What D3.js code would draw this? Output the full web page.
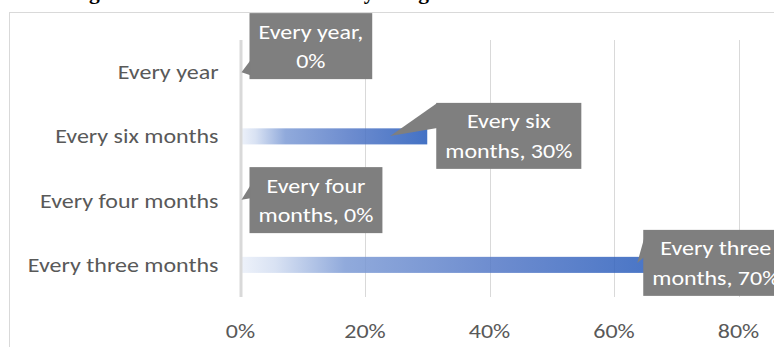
<!DOCTYPE html>
<html>
<head>
<meta charset="utf-8">
<script src="https://cdn.jsdelivr.net/npm/d3@7"></script>
<style>
  html, body { margin: 0; padding: 0; background: #ffffff; }
  svg { display: block; }
</style>
</head>
<body>
<svg id="chart" width="774" height="347"></svg>
<script>
// Training frequency by interval
const categories = ["Every year", "Every six months", "Every four months", "Every three months"];
const values = [0, 0.30, 0, 0.70];
const xTicks = [0, 0.2, 0.4, 0.6, 0.8];
const titleText = "Training of the staff in basic fire safety using the fire hose";

// Callout placement relative to each bar end (layout only)
const calloutLayout = [
  { dx: 9,   dy: -59,   tipDx: 1,   tipDy: 0,    base: [47, 62] },
  { dx: 9,   dy: -33.5, tipDx: -37, tipDy: -0.5, base: [0, 25] },
  { dx: 9,   dy: -33.5, tipDx: 1,   tipDy: -1,   base: [18, 31] },
  { dx: -33, dy: -35,   tipDx: -39, tipDy: -2,   base: [8, 27] }
];

const svg = d3.select("#chart");
const font = "Calibri, Carlito, Lato, sans-serif";
const fontSize = 20;
const stretch = 1.2;   // wide body text

const plotTop = 40, plotBottom = 297;
const x = d3.scaleLinear().domain([0, 1]).range([240.5, 863]);
const y = d3.scaleBand().domain(categories).range([plotTop, plotBottom])
  .paddingInner(0.75).paddingOuter(0.375);

// place a stretched text at (px, py)
function label(parent, px, py, str, anchor, color) {
  return parent.append("text")
    .attr("transform", `translate(${px},${py}) scale(${stretch},1)`)
    .attr("text-anchor", anchor)
    .attr("font-family", font)
    .attr("font-size", fontSize)
    .attr("fill", color)
    .text(str);
}

// Title (mostly above the frame)
svg.append("text")
  .attr("x", 20).attr("y", -1)
  .attr("font-family", "'Liberation Serif', 'Times New Roman', serif")
  .attr("font-weight", "bold")
  .attr("font-size", 21.5)
  .attr("fill", "#000")
  .text(titleText);

// Chart frame
svg.append("rect")
  .attr("x", 9.5).attr("y", 12.5)
  .attr("width", 820).attr("height", 360)
  .attr("fill", "none").attr("stroke", "#d9d9d9").attr("stroke-width", 1);

// Bar gradient
const defs = svg.append("defs");
const grad = defs.append("linearGradient").attr("id", "barGrad")
  .attr("x1", "0%").attr("x2", "100%").attr("y1", "0%").attr("y2", "0%");
[
  [0, "#ebf0f9"],
  [0.08, "#d2ddf1"],
  [0.24, "#7d9bd5"],
  [0.6, "#5277c6"],
  [1, "#2359ba"]
].forEach(([o, c]) => grad.append("stop").attr("offset", o).attr("stop-color", c));

// Vertical gridlines
svg.append("g")
  .selectAll("line")
  .data(xTicks.filter(d => d > 0))
  .join("line")
  .attr("x1", d => Math.round(x(d)) + 0.5).attr("x2", d => Math.round(x(d)) + 0.5)
  .attr("y1", plotTop).attr("y2", plotBottom)
  .attr("stroke", "#d9d9d9").attr("stroke-width", 1);

// Bars
svg.append("g")
  .selectAll("rect")
  .data(categories.map((c, i) => ({ c, v: values[i] })))
  .join("rect")
  .attr("x", x(0))
  .attr("y", d => y(d.c))
  .attr("width", d => x(d.v) - x(0))
  .attr("height", y.bandwidth())
  .attr("fill", "url(#barGrad)")
  .attr("fill-opacity", 0.85);

// Zero axis line
svg.append("line")
  .attr("x1", x(0) + 0.5).attr("x2", x(0) + 0.5)
  .attr("y1", plotTop).attr("y2", plotBottom)
  .attr("stroke", "#d9d9d9").attr("stroke-width", 3);

// Category labels
const catG = svg.append("g");
categories.forEach(c => {
  label(catG, 218.5, y(c) + y.bandwidth() / 2, c, "end", "#595959").attr("dy", "0.35em");
});

// X tick labels
const pct = d3.format(".0%");
const tickG = svg.append("g");
xTicks.forEach(t => label(tickG, x(t), 338, pct(t), "middle", "#595959"));

// Data callouts
const callouts = svg.append("g");
categories.forEach((c, i) => {
  const L = calloutLayout[i];
  const ax = x(values[i]);
  const ay = y(c) + y.bandwidth() / 2;
  const words = `${c}, ${pct(values[i])}`.split(" ");
  const lines = [words.slice(0, 2).join(" "), words.slice(2).join(" ")];

  const g = callouts.append("g");
  const shape = g.append("g");
  const texts = lines.map(t => label(g, 0, 0, t, "middle", "#ffffff"));
  const tw = d3.max(texts, t => t.node().getComputedTextLength()) * stretch;
  const w = tw + 18, h = 66;
  const bx = ax + L.dx, by = ay + L.dy;

  shape.append("rect")
    .attr("x", bx).attr("y", by).attr("width", w).attr("height", h)
    .attr("fill", "#7f7f7f");
  shape.append("path")
    .attr("d", d3.line()([
      [bx + 1, by + L.base[0]],
      [ax + L.tipDx, ay + L.tipDy],
      [bx + 1, by + L.base[1]]
    ]) + "Z")
    .attr("fill", "#7f7f7f");

  texts.forEach((t, k) => t.attr("transform",
    `translate(${bx + w / 2},${by + 25.5 + k * 29.5}) scale(${stretch},1)`));
});
</script>
</body>
</html>
